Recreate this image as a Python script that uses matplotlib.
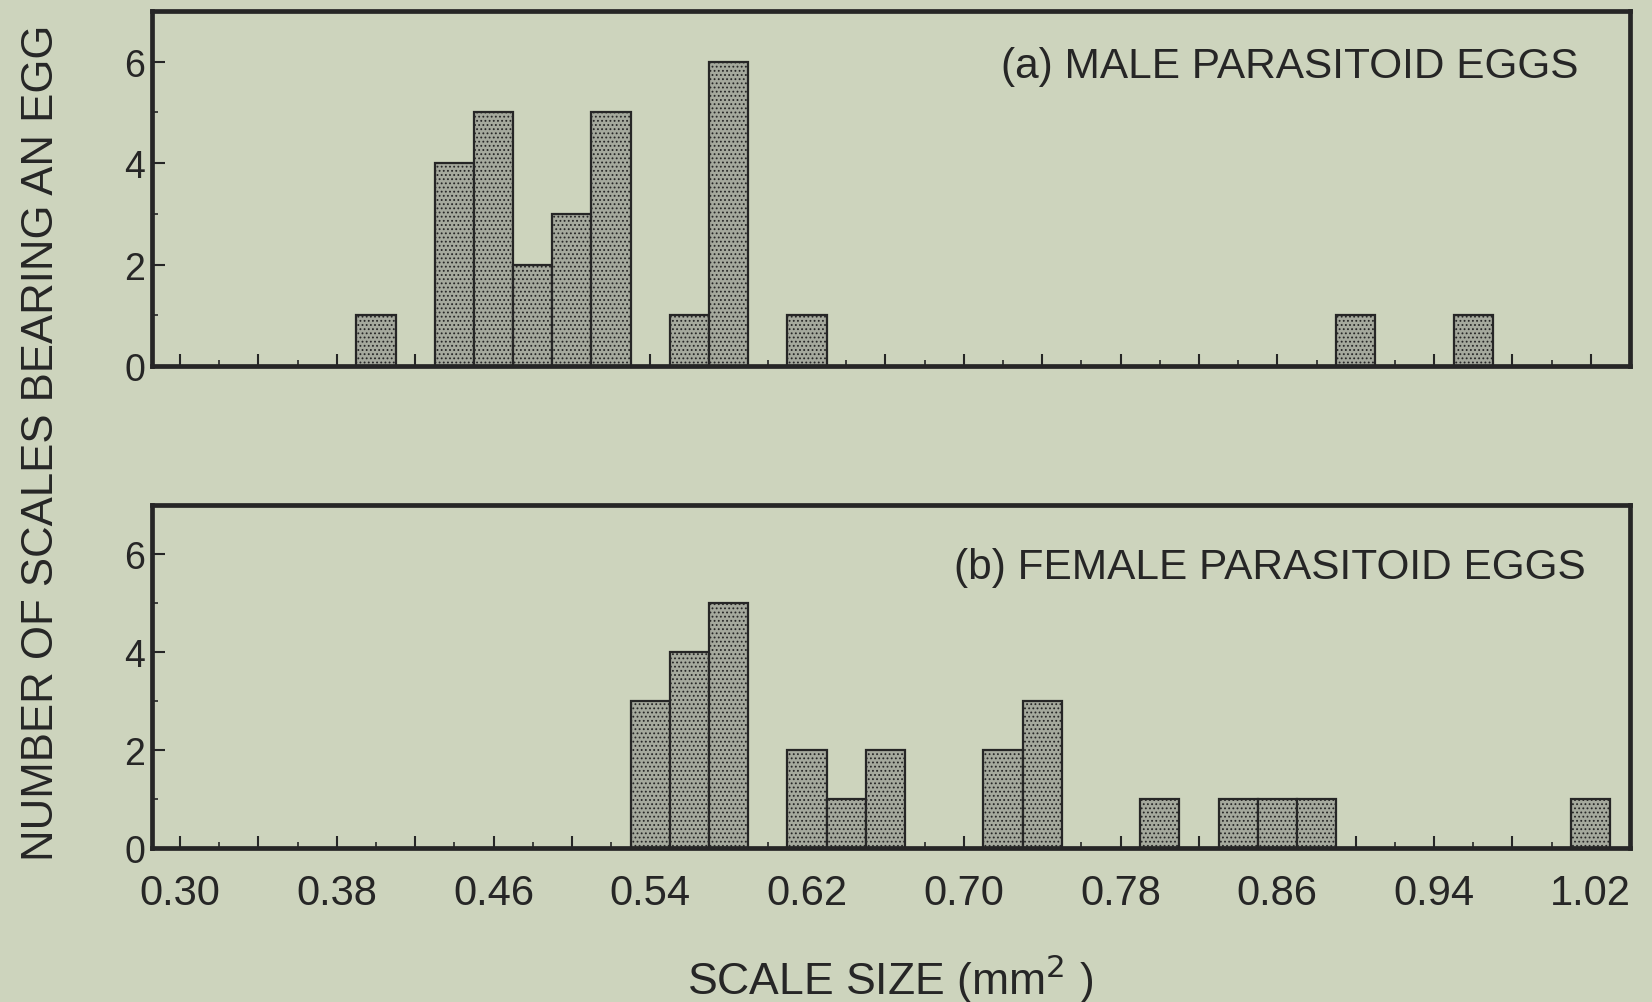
import matplotlib
matplotlib.use("Agg")
import matplotlib.pyplot as plt
from matplotlib.ticker import MultipleLocator, FixedLocator, FuncFormatter

# 数据：鳞片大小分组中心 (mm²) 与带卵鳞片数
male_size = [0.40, 0.44, 0.46, 0.48, 0.50, 0.52, 0.56, 0.58, 0.62, 0.90, 0.96]
male_count = [1, 4, 5, 2, 3, 5, 1, 6, 1, 1, 1]
female_size = [0.54, 0.56, 0.58, 0.62, 0.64, 0.66, 0.72, 0.74, 0.80, 0.84, 0.86, 0.88, 1.02]
female_count = [3, 4, 5, 2, 1, 2, 2, 3, 1, 1, 1, 1, 1]
x_labels = ["0.30", "0.38", "0.46", "0.54", "0.62", "0.70", "0.78", "0.86", "0.94", "1.02"]

bg = "#cdd4bd"
ink = "#262626"
bar_face = "#a5a99d"

plt.rcParams["font.family"] = ["Liberation Sans", "DejaVu Sans"]
plt.rcParams["hatch.linewidth"] = 0.8

fig = plt.figure(figsize=(16.52, 10.03), dpi=100, facecolor=bg)
ax1 = fig.add_axes([0.0920, 0.6341, 0.8947, 0.3539])
ax2 = fig.add_axes([0.0920, 0.1535, 0.8947, 0.3420])


def 画面板(ax, sizes, counts, label, lx, ly, show_xlabels):
    ax.set_facecolor(bg)
    ax.bar(sizes, counts, width=0.02, facecolor=bar_face, edgecolor=ink,
           linewidth=1.6, hatch="....", zorder=2)
    ax.set_xlim(0.2857, 1.04)
    ax.set_ylim(0, 7)
    for s in ax.spines.values():
        s.set_linewidth(3.4)
        s.set_color(ink)
        s.set_zorder(3)
    ax.xaxis.set_major_locator(MultipleLocator(0.04, offset=0.02))
    ax.xaxis.set_minor_locator(MultipleLocator(0.02))
    ax.yaxis.set_major_locator(FixedLocator([0, 2, 4, 6]))
    ax.yaxis.set_minor_locator(FixedLocator([1, 3, 5]))
    ax.tick_params(which="major", direction="in", length=9, width=1.5,
                   color=ink, labelcolor=ink)
    ax.tick_params(which="minor", direction="in", length=4, width=1.2, color=ink)
    ax.tick_params(axis="y", pad=5, labelsize=27)
    ax.tick_params(axis="x", pad=18, labelsize=30)
    if show_xlabels:
        def fmt(v, pos):
            s = f"{v:.2f}"
            return s if s in x_labels else ""
        ax.xaxis.set_major_formatter(FuncFormatter(fmt))
    else:
        ax.set_xticklabels([])
    ax.text(lx, ly, label, transform=ax.transAxes,
            ha="right", va="center", fontsize=30.5, color=ink)


画面板(ax1, male_size, male_count, "(a) MALE PARASITOID EGGS", 0.965, 0.846, False)
画面板(ax2, female_size, female_count, "(b) FEMALE PARASITOID EGGS", 0.970, 0.820, True)

fig.text(0.025, 0.559, "NUMBER OF SCALES BEARING AN EGG", rotation=90,
         ha="center", va="center", fontsize=31.5, color=ink)
fig.text(0.539, 0.024, "SCALE SIZE (mm$^{2}$ )", ha="center", va="center",
         fontsize=32, color=ink)

fig.savefig("out.png", dpi=100, facecolor=bg)
